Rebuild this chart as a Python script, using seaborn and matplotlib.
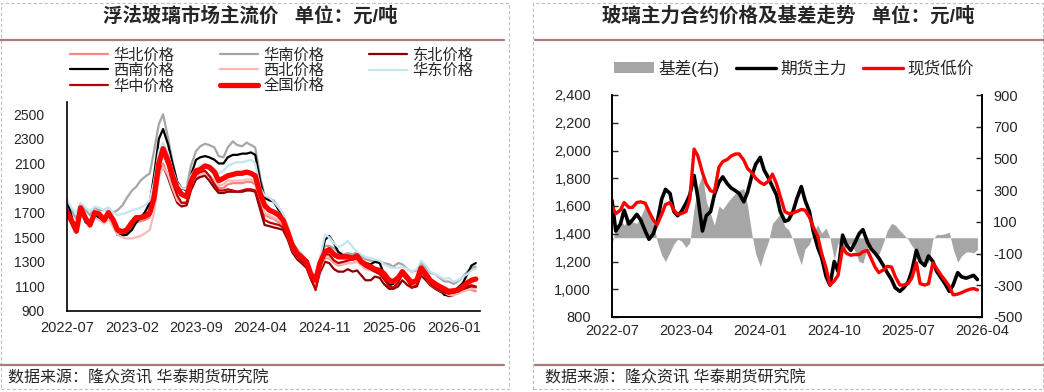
import pandas as pd
import matplotlib
matplotlib.use('Agg')
import matplotlib.pyplot as plt
import matplotlib.dates as mdates
from matplotlib.lines import Line2D
from matplotlib.patches import Patch, Rectangle
from matplotlib.ticker import FuncFormatter
import seaborn as sns

sns.set_style('white')
plt.rcParams['font.family'] = ['Liberation Sans', 'Noto Sans CJK SC']
plt.rcParams['axes.unicode_minus'] = False

# ── data (semi-monthly readings, 2022-07 .. 2026-03) ──
dates = pd.date_range('2022-07-01', periods=90, freq='SMS')

north = [1690, 1620, 1560, 1700, 1640, 1590, 1680, 1650, 1620, 1680, 1620, 1540,
         1520, 1530, 1580, 1620, 1630, 1640, 1660, 1780, 2050, 2100, 2000, 1920,
         1820, 1780, 1780, 1900, 1990, 2000, 2010, 2000, 1960, 1900, 1900, 1930,
         1940, 1940, 1940, 1950, 1950, 1930, 1780, 1680, 1660, 1650, 1620, 1600,
         1500, 1400, 1330, 1300, 1260, 1170, 1090, 1230, 1330, 1330, 1290, 1270,
         1280, 1290, 1290, 1310, 1280, 1250, 1240, 1220, 1220, 1190, 1130, 1120,
         1150, 1200, 1160, 1110, 1130, 1230, 1180, 1130, 1100, 1080, 1060, 1040,
         1040, 1050, 1070, 1080, 1070, 1060]
south = [1790, 1720, 1650, 1760, 1720, 1680, 1740, 1720, 1720, 1740, 1700, 1720,
         1760, 1820, 1880, 1910, 1960, 1990, 2020, 2200, 2420, 2500, 2300, 2120,
         1950, 1890, 1900, 2080, 2200, 2240, 2260, 2250, 2230, 2160, 2150, 2230,
         2280, 2250, 2240, 2270, 2250, 2230, 1980, 1840, 1810, 1800, 1740, 1690,
         1580, 1450, 1400, 1370, 1290, 1220, 1160, 1300, 1430, 1430, 1410, 1380,
         1360, 1370, 1360, 1380, 1340, 1320, 1310, 1300, 1300, 1290, 1280, 1260,
         1290, 1280, 1240, 1220, 1230, 1290, 1250, 1210, 1200, 1170, 1140, 1140,
         1120, 1140, 1180, 1220, 1250, 1260]
northeast = [1700, 1620, 1540, 1720, 1640, 1590, 1700, 1680, 1640, 1700, 1640, 1560,
             1540, 1540, 1600, 1640, 1650, 1660, 1680, 1800, 2050, 2080, 1980, 1880,
             1780, 1750, 1760, 1880, 1970, 1990, 2000, 1960, 1900, 1860, 1860, 1870,
             1870, 1870, 1870, 1880, 1880, 1870, 1720, 1600, 1590, 1580, 1570, 1560,
             1480, 1380, 1320, 1290, 1250, 1160, 1080, 1210, 1300, 1290, 1240, 1220,
             1220, 1240, 1220, 1230, 1190, 1150, 1150, 1180, 1170, 1120, 1080, 1080,
             1100, 1150, 1110, 1090, 1100, 1190, 1150, 1110, 1080, 1060, 1040, 1020,
             1030, 1050, 1070, 1090, 1100, 1090]
southwest = [1800, 1680, 1540, 1720, 1620, 1620, 1700, 1650, 1630, 1700, 1620, 1520,
             1515, 1520, 1560, 1620, 1660, 1700, 1780, 2000, 2300, 2380, 2250, 2100,
             1950, 1900, 1880, 2000, 2130, 2150, 2160, 2150, 2130, 2100, 2100, 2150,
             2170, 2170, 2180, 2180, 2190, 2170, 1950, 1820, 1800, 1790, 1720, 1680,
             1560, 1420, 1380, 1350, 1270, 1190, 1150, 1300, 1480, 1510, 1450, 1380,
             1350, 1350, 1330, 1340, 1310, 1290, 1280, 1300, 1290, 1200, 1110, 1120,
             1180, 1200, 1150, 1100, 1120, 1220, 1180, 1140, 1120, 1080, 1030, 1030,
             1060, 1090, 1130, 1200, 1270, 1290]
northwest = [1660, 1620, 1580, 1680, 1640, 1600, 1660, 1640, 1610, 1650, 1580, 1520,
             1500, 1490, 1490, 1500, 1510, 1530, 1560, 1700, 1980, 2080, 2000, 1900,
             1800, 1770, 1790, 1920, 2000, 2010, 2020, 2000, 1960, 1920, 1930, 1960,
             1960, 1960, 1960, 1970, 1970, 1950, 1800, 1700, 1680, 1660, 1640, 1610,
             1510, 1400, 1340, 1310, 1270, 1180, 1100, 1240, 1340, 1340, 1300, 1280,
             1280, 1290, 1290, 1300, 1270, 1240, 1230, 1220, 1210, 1180, 1140, 1130,
             1150, 1190, 1150, 1110, 1120, 1220, 1170, 1120, 1090, 1070, 1050, 1030,
             1030, 1040, 1060, 1070, 1080, 1080]
east = [1810, 1740, 1700, 1780, 1740, 1710, 1750, 1740, 1720, 1740, 1700, 1680,
        1690, 1700, 1720, 1730, 1740, 1760, 1800, 1950, 2200, 2270, 2180, 2050,
        1940, 1900, 1890, 2000, 2060, 2080, 2090, 2080, 2060, 2020, 2040, 2080,
        2100, 2110, 2110, 2120, 2130, 2100, 1900, 1840, 1820, 1790, 1740, 1690,
        1580, 1460, 1400, 1370, 1310, 1230, 1170, 1330, 1520, 1500, 1450, 1420,
        1440, 1470, 1420, 1380, 1360, 1340, 1330, 1320, 1310, 1280, 1260, 1250,
        1250, 1260, 1240, 1220, 1240, 1310, 1270, 1220, 1200, 1180, 1160, 1170,
        1140, 1150, 1180, 1200, 1230, 1240]
central = [1720, 1640, 1540, 1740, 1650, 1590, 1700, 1690, 1650, 1700, 1640, 1560,
           1540, 1560, 1620, 1650, 1660, 1660, 1690, 1820, 2080, 2180, 2080, 1950,
           1840, 1780, 1780, 1920, 2010, 2030, 2040, 2000, 1930, 1880, 1880, 1890,
           1880, 1870, 1880, 1890, 1890, 1880, 1750, 1640, 1620, 1610, 1600, 1580,
           1500, 1400, 1340, 1310, 1270, 1170, 1070, 1260, 1360, 1360, 1310, 1290,
           1300, 1310, 1320, 1330, 1290, 1260, 1240, 1220, 1200, 1160, 1100, 1090,
           1130, 1200, 1150, 1090, 1110, 1230, 1170, 1120, 1090, 1070, 1050, 1040,
           1050, 1060, 1080, 1100, 1110, 1100]
national = [1705, 1640, 1550, 1740, 1650, 1600, 1700, 1690, 1640, 1700, 1640, 1560,
            1545, 1560, 1620, 1660, 1660, 1670, 1700, 1820, 2100, 2220, 2120, 2000,
            1900, 1850, 1830, 1950, 2040, 2050, 2080, 2070, 2030, 1960, 1980, 2000,
            2010, 2020, 2020, 2030, 2020, 2000, 1850, 1760, 1720, 1705, 1680, 1640,
            1540, 1440, 1370, 1340, 1300, 1200, 1150, 1290, 1380, 1400, 1360, 1340,
            1340, 1340, 1330, 1350, 1300, 1280, 1260, 1240, 1230, 1205, 1150, 1140,
            1170, 1220, 1170, 1130, 1150, 1250, 1200, 1150, 1120, 1100, 1080, 1060,
            1065, 1070, 1100, 1130, 1150, 1160]

spot = [1595, 1545, 1570, 1625, 1590, 1590, 1625, 1630, 1620, 1560, 1500, 1465,
        1540, 1610, 1625, 1570, 1540, 1545, 1560, 1650, 2010, 1960, 1840, 1760,
        1710, 1700, 1880, 1920, 1935, 1960, 1975, 1975, 1930, 1870, 1840, 1800,
        1770, 1755, 1780, 1830, 1760, 1670, 1560, 1545, 1550, 1560, 1575, 1570,
        1520, 1450, 1380, 1260, 1150, 1030, 1060, 1100, 1300, 1260, 1245, 1250,
        1250, 1270, 1280, 1220, 1160, 1120, 1140, 1165, 1160, 1090, 1030, 1030,
        1040, 1080, 1190, 1040, 1030, 1040, 1190, 1150, 1100, 1065, 1020, 960,
        965, 975, 990, 1000, 1005, 995]
futures = [1640, 1420, 1470, 1570, 1470, 1500, 1540, 1500, 1420, 1360, 1400, 1480,
           1650, 1720, 1690, 1560, 1530, 1560, 1620, 1680, 1820, 1660, 1420, 1530,
           1560, 1680, 1770, 1810, 1760, 1730, 1710, 1690, 1630, 1700, 1820, 1900,
           1950, 1860, 1800, 1740, 1680, 1560, 1490, 1500, 1560, 1650, 1740, 1640,
           1560, 1420, 1300, 1230, 1090, 1030, 1200, 1130, 1390, 1320, 1280, 1330,
           1400, 1430, 1340, 1290, 1260, 1225, 1170, 1120, 1070, 1010, 985, 1010,
           1050, 1130, 1280, 1200, 1170, 1240, 1200, 1130, 1080, 1040, 985, 1030,
           1120, 1090, 1080, 1090, 1100, 1070]
basis = [-40, 60, 110, 80, 120, 100, 90, 130, 200, 150, 100, -20,
         -110, -150, -90, -40, -10, -20, -60, -30, 190, 320, 400, 230,
         150, 80, 200, 180, 220, 250, 280, 300, 310, 200, 20, -100,
         -180, -100, -20, 90, 120, 150, 70, 50, -10, -90, -170, -70,
         -40, 30, 80, 30, 60, 0, -140, -30, -90, -60, -35, -80,
         -150, -160, -60, -70, -100, -105, -30, 45, 90, 80, 45, 20,
         -10, -50, -90, -160, -140, -160, -10, 20, 20, 25, 35, -70,
         -155, -115, -90, -90, -95, -75]

left_ticks = ['2022-07', '2023-02', '2023-09', '2024-04', '2024-11', '2025-06', '2026-01']
right_ticks = ['2022-07', '2023-04', '2024-01', '2024-10', '2025-07', '2026-04']

regions = [('华北价格', north, '#F4877F', 1.6),
           ('华南价格', south, '#A6A6A6', 1.6),
           ('东北价格', northeast, '#8B0000', 1.6),
           ('西南价格', southwest, '#000000', 1.6),
           ('西北价格', northwest, '#F8B8B6', 1.6),
           ('华东价格', east, '#C6E4F2', 1.6),
           ('华中价格', central, '#C00000', 1.6),
           ('全国价格', national, '#FF0000', 3.8)]

W, H = 1044, 392
fig = plt.figure(figsize=(W / 100, H / 100), dpi=100)

# ── panel frames / titles / footers ──
brown = '#A87C7A'
for x0, x1 in [(1, 509), (533, 1043)]:
    fig.add_artist(Rectangle((x0 / W, 3 / H), (x1 - x0) / W, (H - 6) / H,
                             transform=fig.transFigure, fill=False,
                             edgecolor='#BFBFBF', lw=0.8, ls=(0, (3, 2))))
for x0, x1 in [(0, 504), (535, 1044)]:
    for yy in (40, 365):
        fig.add_artist(Line2D([x0 / W, x1 / W], [1 - yy / H, 1 - yy / H],
                              transform=fig.transFigure, color=brown, lw=1.6))

fig.text(250 / W, 1 - 16 / H, '浮法玻璃市场主流价   单位：元/吨',
         ha='center', va='center', fontsize=14, fontweight='bold')
fig.text(788 / W, 1 - 16 / H, '玻璃主力合约价格及基差走势   单位：元/吨',
         ha='center', va='center', fontsize=14, fontweight='bold')
fig.text(8 / W, 1 - 378 / H, '数据来源：隆众资讯 华泰期货研究院',
         ha='left', va='center', fontsize=11.5)
fig.text(545 / W, 1 - 378 / H, '数据来源：隆众资讯 华泰期货研究院',
         ha='left', va='center', fontsize=11.5)

# ── left chart ──
ax1 = fig.add_axes([67 / W, (H - 311) / H, 413 / W, 209 / H])
for name, vals, col, lw in regions:
    sns.lineplot(x=dates, y=vals, ax=ax1, color=col, lw=lw, label=name)
ax1.set_ylim(900, 2600)
ax1.set_yticks(range(900, 2501, 200))
ax1.set_xlim(pd.Timestamp('2022-07-01'), pd.Timestamp('2026-03-29'))
ax1.set_xticks(pd.to_datetime(left_ticks))
ax1.xaxis.set_major_formatter(mdates.DateFormatter('%Y-%m'))
ax1.set_xlabel('')
ax1.set_ylabel('')
for s in ['top', 'right']:
    ax1.spines[s].set_visible(False)
for s in ['left', 'bottom']:
    ax1.spines[s].set_color('black')
    ax1.spines[s].set_linewidth(1.2)
ax1.tick_params(axis='x', direction='in', length=5, width=1, pad=7, labelsize=10.5)
ax1.tick_params(axis='y', direction='in', length=3, width=0.8, pad=16, labelsize=10)

handles, labels = ax1.get_legend_handles_labels()
if ax1.get_legend() is not None:
    ax1.get_legend().remove()
order = [0, 3, 6, 1, 4, 7, 2, 5]
fig.legend([handles[i] for i in order], [labels[i] for i in order],
           loc='upper left', bbox_to_anchor=(70 / W, 1 - 48 / H), ncol=3,
           frameon=False, fontsize=11, handlelength=2.5, handletextpad=0.35,
           columnspacing=2.95, labelspacing=0.08, borderpad=0, borderaxespad=0)

# ── right chart ──
ax2 = fig.add_axes([612 / W, (H - 317) / H, 370 / W, 222 / H])
axr = ax2.twinx()
axr.fill_between(dates, 0, basis, color='#A6A6A6', lw=0)
sns.lineplot(x=dates, y=futures, ax=ax2, color='black', lw=2.6)
sns.lineplot(x=dates, y=spot, ax=ax2, color='#FF0000', lw=2.4)
ax2.set_zorder(axr.get_zorder() + 1)
ax2.patch.set_visible(False)

ax2.set_ylim(800, 2400)
ax2.set_yticks(range(800, 2401, 200))
ax2.yaxis.set_major_formatter(FuncFormatter(lambda v, p: f'{v:,.0f}'))
axr.set_ylim(-500, 900)
axr.set_yticks(range(-500, 901, 200))
ax2.set_xlim(pd.Timestamp('2022-07-01'), pd.Timestamp('2026-04-01'))
ax2.set_xticks(pd.to_datetime(right_ticks))
ax2.xaxis.set_minor_locator(mdates.MonthLocator())
ax2.xaxis.set_major_formatter(mdates.DateFormatter('%Y-%m'))
for a in (ax2, axr):
    a.set_xlabel('')
    a.set_ylabel('')
    a.spines['top'].set_visible(False)
    for s in ['left', 'right', 'bottom']:
        a.spines[s].set_color('black')
        a.spines[s].set_linewidth(1.2)
ax2.tick_params(axis='x', which='major', direction='in', length=5, width=1,
                pad=5, labelsize=10.5)
ax2.tick_params(axis='x', which='minor', direction='in', length=3, width=0.8)
ax2.tick_params(axis='y', direction='in', length=4, width=1, pad=15, labelsize=10.5)
axr.tick_params(axis='y', direction='in', length=4, width=1, pad=8, labelsize=10.5)

leg_h = [Patch(facecolor='#A6A6A6', edgecolor='none'),
         Line2D([], [], color='black', lw=2.4),
         Line2D([], [], color='#FF0000', lw=2.4)]
fig.legend(leg_h, ['基差(右)', '期货主力', '现货低价'], loc='center left',
           bbox_to_anchor=(614 / W, 1 - 68 / H), ncol=3, frameon=False,
           fontsize=12, handlelength=2.4, handleheight=0.6, handletextpad=0.25,
           columnspacing=1.0, borderpad=0, borderaxespad=0)

fig.savefig('out.png', dpi=100)
